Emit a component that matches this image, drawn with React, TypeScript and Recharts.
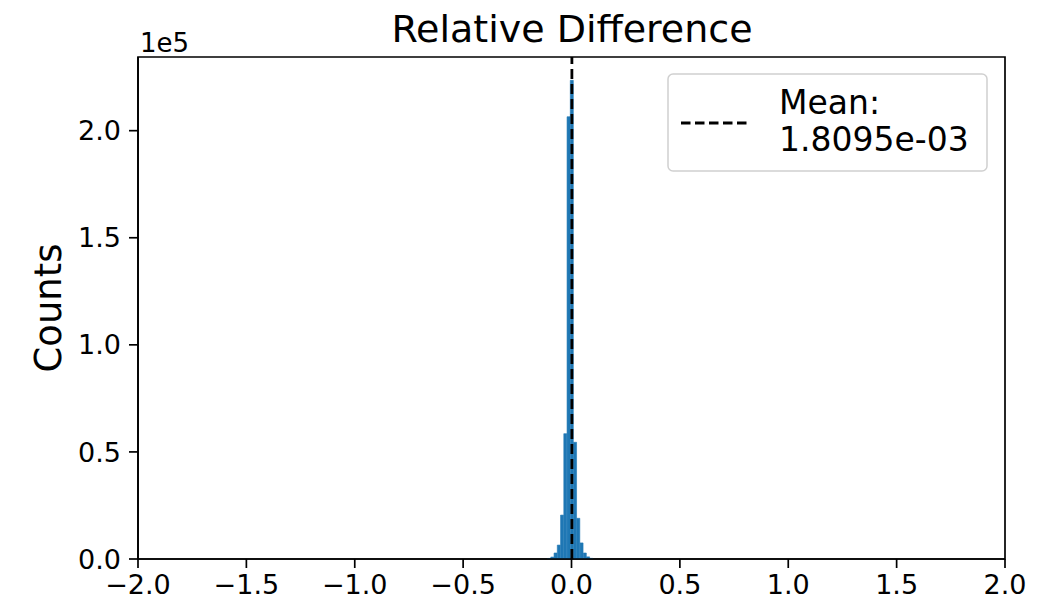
import React from 'react';
import { ComposedChart, Bar, XAxis, YAxis, ReferenceLine, ReferenceArea, Legend } from 'recharts';

// histogram of relative difference (bin centres and counts)
const binCenters = [-0.103, -0.088, -0.073, -0.058, -0.043, -0.028, -0.013, 0.002, 0.017, 0.032, 0.047, 0.062, 0.077, 0.092];
const binCounts = [250, 900, 2800, 6500, 20500, 58500, 206500, 223500, 54500, 19000, 7500, 2800, 1000, 300];
const xTicks = [-2, -1.5, -1, -0.5, 0, 0.5, 1, 1.5, 2];
const yTicks = [0, 50000, 100000, 150000, 200000];
const xDomain: [number, number] = [-2, 2];
const yDomain: [number, number] = [0, 234400];
const meanValue = 1.8095e-3;
const meanLabel = ['Mean:', '1.8095e-03'];

const FONT = '"DejaVu Sans", sans-serif';

const fmtX = (v: number) => (v < 0 ? '\u2212' + Math.abs(v).toFixed(1) : v.toFixed(1));
const fmtY = (v: number) => (v / 1e5).toFixed(1);

const LegendBox = () => (
  <svg width={322} height={100} style={{ display: 'block' }}>
    <rect x={1} y={1} width={319} height={97} rx={5} fill="#fff" fillOpacity={0.8} stroke="#d0d0d0" strokeWidth={1.5} />
    <line x1={14} y1={50} x2={84} y2={50} stroke="#000" strokeWidth={2.8} strokeDasharray="9.5 4.5" />
    <text x={112} y={41} fontFamily={FONT} fontSize={33} fill="#000">{meanLabel[0]}</text>
    <text x={112} y={78} fontFamily={FONT} fontSize={33} fill="#000">{meanLabel[1]}</text>
  </svg>
);

export default function App() {
  const data = binCenters.map((c, i) => ({ x: c, count: binCounts[i] }));
  const tickStyle = { fontSize: 27, fontFamily: FONT, fill: '#000' };
  const axisStroke = { stroke: '#000', strokeWidth: 1.7 };

  return (
    <div style={{ position: 'absolute', left: 0, top: 0, width: 1042, height: 608, background: '#fff' }}>
      <ComposedChart width={1042} height={608} data={data} barCategoryGap={0} barGap={0}
        margin={{ top: 57, right: 37, bottom: 0, left: 0 }}>
        <XAxis dataKey="x" type="number" domain={xDomain} ticks={xTicks} tickFormatter={fmtX}
          allowDataOverflow height={49} tick={tickStyle} tickSize={9} tickMargin={7}
          axisLine={axisStroke} tickLine={axisStroke} />
        <YAxis type="number" domain={yDomain} ticks={yTicks} tickFormatter={fmtY} width={138}
          allowDataOverflow tick={tickStyle} tickSize={9} tickMargin={8}
          axisLine={axisStroke} tickLine={axisStroke}
          label={{
            content: () => (
              <g>
                <text x={48} y={308} transform="rotate(-90 48 308)" textAnchor="middle" dominantBaseline="central"
                  fontFamily={FONT} fontSize={37} fill="#000">Counts</text>
                <text x={140} y={52} fontFamily={FONT} fontSize={26} fill="#000">1e5</text>
                <text x={572} y={42} textAnchor="middle" fontFamily={FONT} fontSize={38} fill="#000">Relative Difference</text>
              </g>
            ),
          }} />
        <Bar dataKey="count" fill="#1f77b4" stroke="#1f77b4" strokeWidth={0.6} isAnimationActive={false} />
        <ReferenceLine x={meanValue} stroke="#000" strokeWidth={2.8} strokeDasharray="10 5" />
        {/* frame (matplotlib spines) */}
        <ReferenceArea x1={xDomain[0]} x2={xDomain[1]} y1={yDomain[0]} y2={yDomain[1]}
          fill="none" fillOpacity={0} stroke="#000" strokeWidth={1.7} ifOverflow="visible" />
        <Legend verticalAlign="middle" content={() => <LegendBox />}
          wrapperStyle={{ position: 'absolute', left: 667, top: 73, width: 322, height: 100 }} />
      </ComposedChart>
    </div>
  );
}
